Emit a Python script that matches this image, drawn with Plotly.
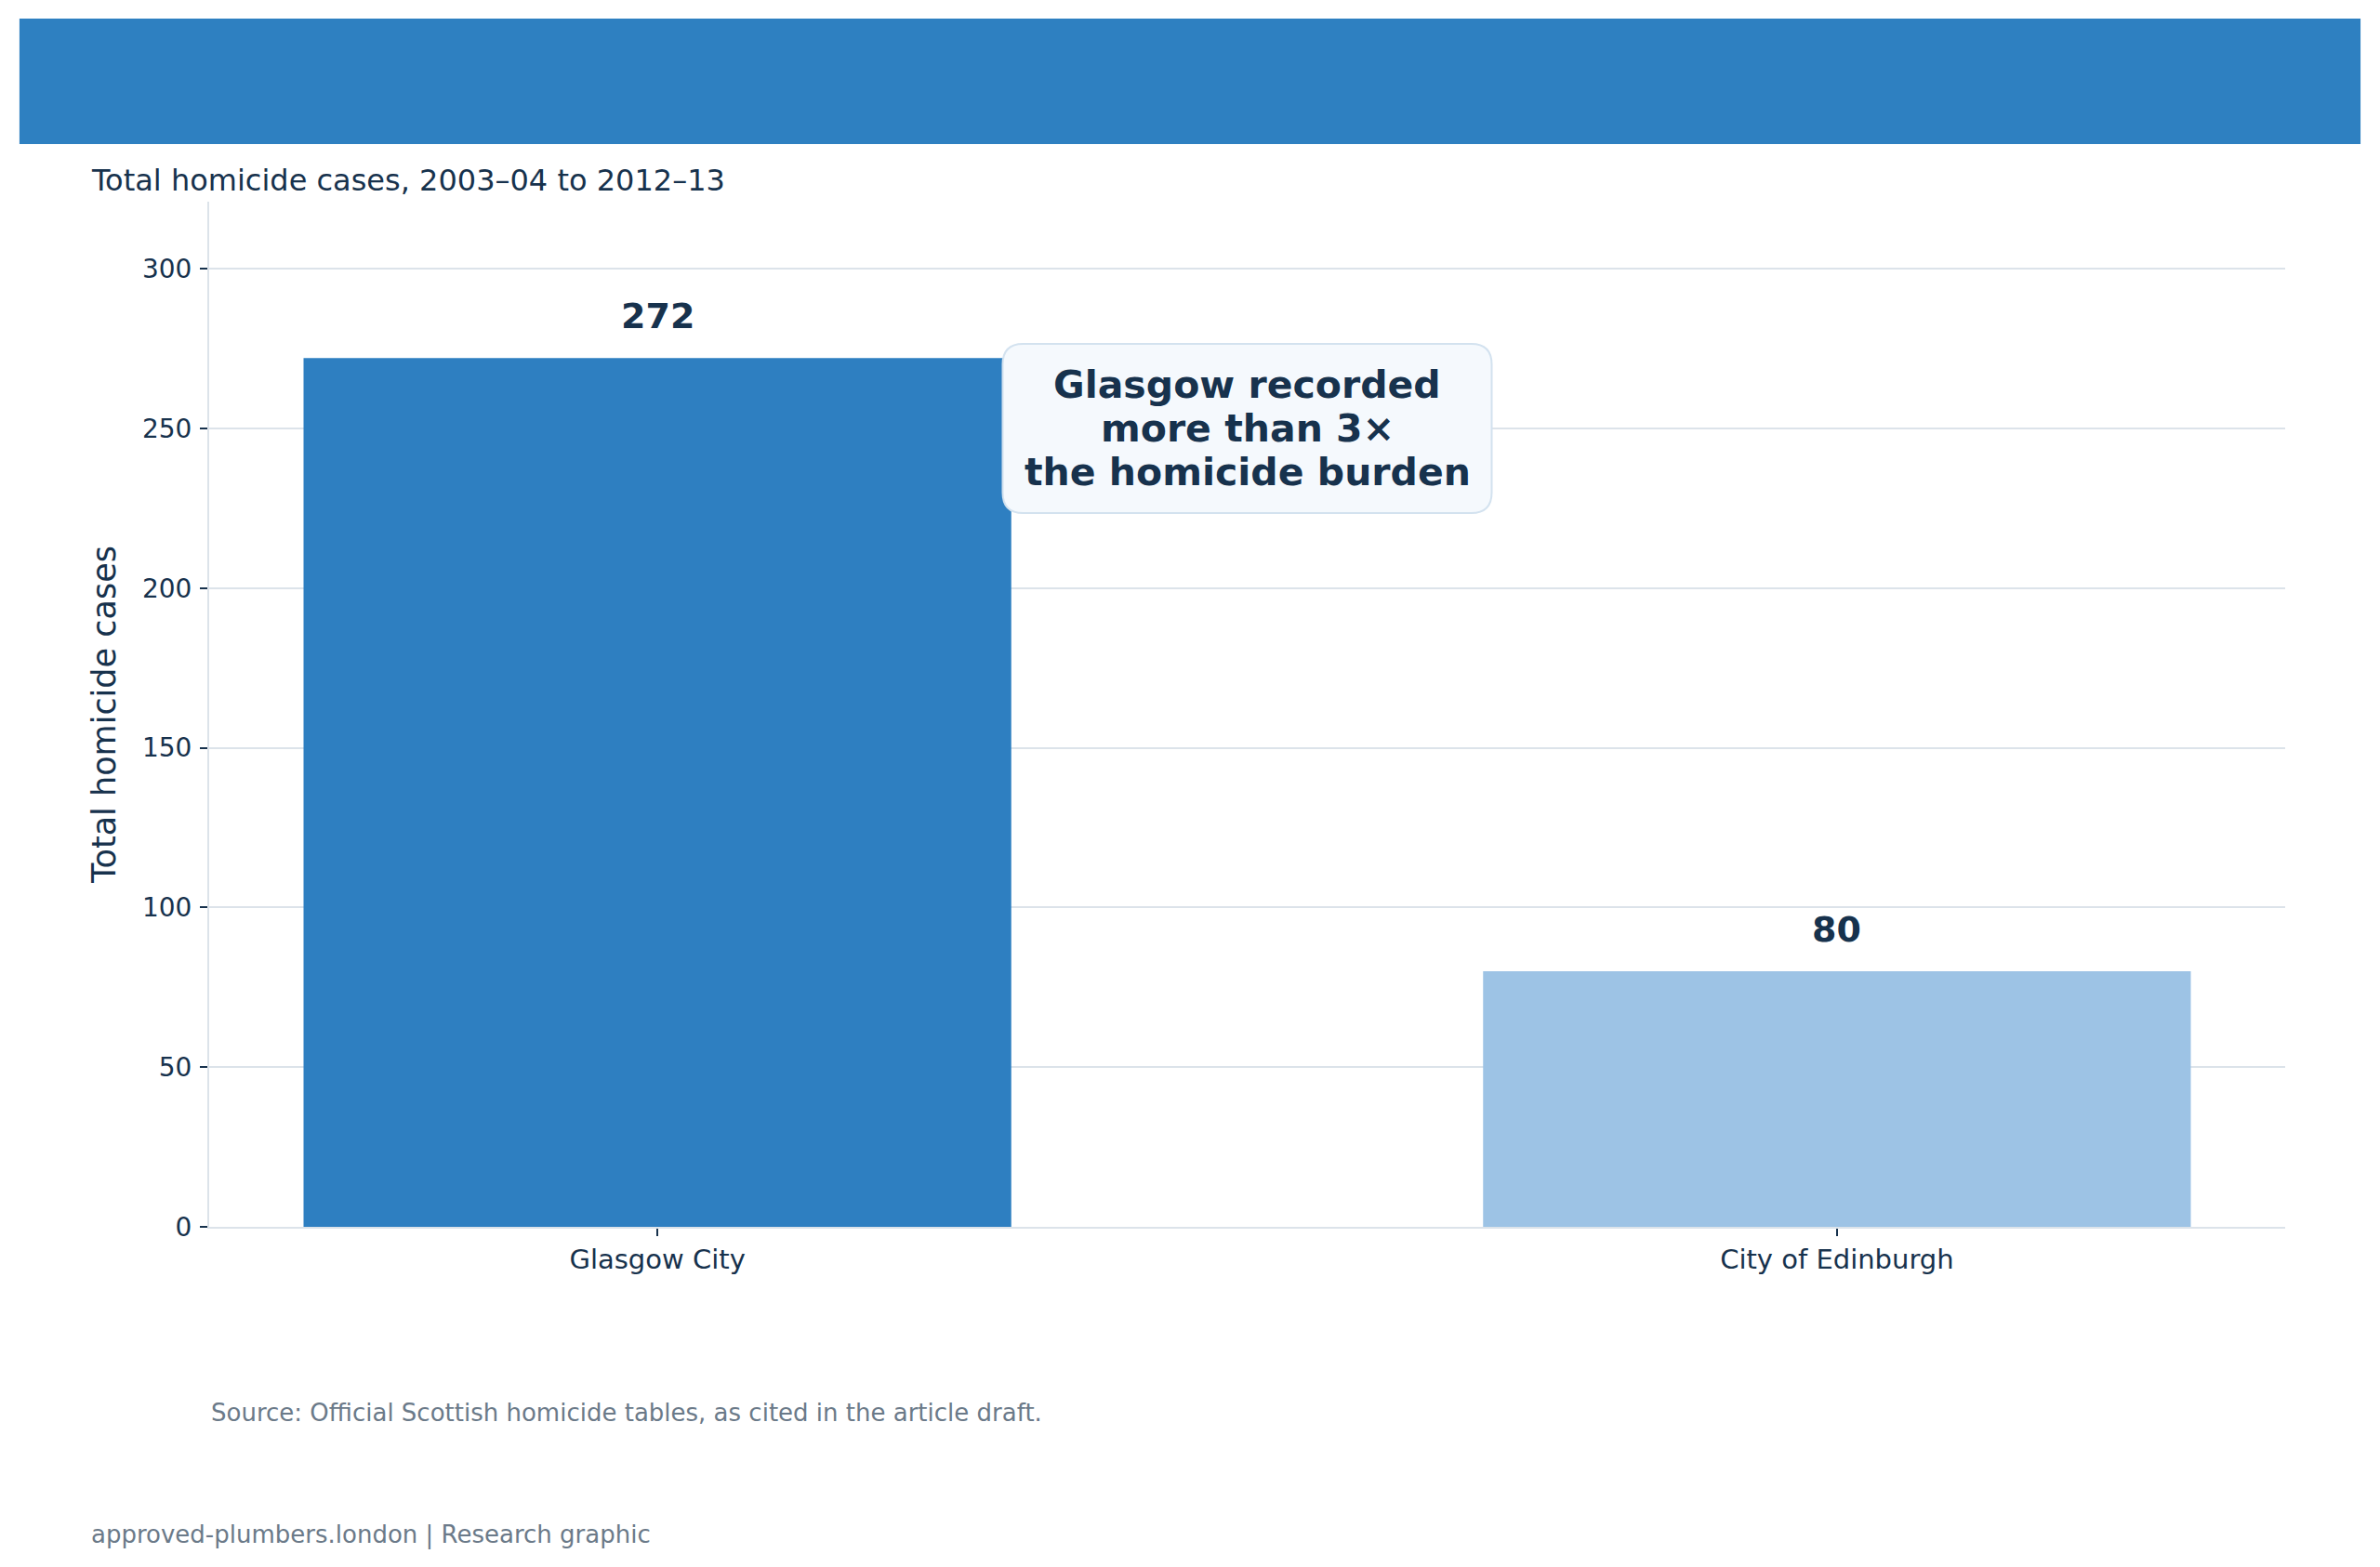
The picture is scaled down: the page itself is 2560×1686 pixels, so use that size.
import plotly.graph_objects as go

# data
areas = ["Glasgow City", "City of Edinburgh"]
cases = [272, 80]
bar_colors = ["#2E7FC1", "#9DC3E5"]
y_ticks = [0, 50, 100, 150, 200, 250, 300]
callout_lines = ["Glasgow recorded", "more than 3×", "the homicide burden"]

DARK = "#17324D"
GREY = "#6B7A89"
GRID = "#DCE3EA"
FONT = "DejaVu Sans"

# page body adds an 8px margin, so the figure is a bit smaller than the window
W, H = 2552, 1678
M_L, M_R, M_T, M_B = 217, 102, 209, 366
X_RANGE = [-0.38, 1.38]
Y_RANGE = [0, 321]

fig = go.Figure(go.Bar(
    x=list(range(len(areas))), y=cases, width=0.6,
    marker=dict(color=bar_colors, line=dict(width=0)),
    hoverinfo="skip",
))

# value labels above the bars
for i, v in enumerate(cases):
    fig.add_annotation(
        x=i, y=v, text=f"<b>{v}</b>", showarrow=False,
        yanchor="bottom", yshift=21,
        font=dict(family=FONT, size=38, color=DARK),
    )

# rounded callout box between the bars
plot_w = W - M_L - M_R
plot_h = H - M_T - M_B
px_x = plot_w / (X_RANGE[1] - X_RANGE[0])
px_y = plot_h / (Y_RANGE[1] - Y_RANGE[0])
cx, cy = 0.5, 250
hw, hh = 263 / px_x, 91 / px_y
rx, ry = 22 / px_x, 22 / px_y
x0, x1, y0, y1 = cx - hw, cx + hw, cy - hh, cy + hh
path = (
    f"M {x0 + rx},{y1} L {x1 - rx},{y1} Q {x1},{y1} {x1},{y1 - ry} "
    f"L {x1},{y0 + ry} Q {x1},{y0} {x1 - rx},{y0} "
    f"L {x0 + rx},{y0} Q {x0},{y0} {x0},{y0 + ry} "
    f"L {x0},{y1 - ry} Q {x0},{y1} {x0 + rx},{y1} Z"
)
fig.add_shape(type="path", path=path, xref="x", yref="y",
              fillcolor="#F5F9FD", line=dict(color="#D3E2EF", width=2),
              layer="above")
line_gap = 47
for k, line in enumerate(callout_lines):
    fig.add_annotation(
        x=cx, y=cy, xref="x", yref="y", showarrow=False,
        yshift=(1 - k) * line_gap,
        text=f"<b>{line}</b>",
        font=dict(family=FONT, size=41, color=DARK),
    )

# header banner
fig.add_shape(type="rect", xref="paper", yref="paper",
              x0=-0.0914, x1=1.0363, y0=1.0562, y1=1.1786,
              fillcolor="#2E80C1", line=dict(width=0), layer="above")

fig.add_annotation(
    xref="paper", yref="paper", x=-0.0578, y=1.0209,
    xanchor="left", yanchor="middle", showarrow=False,
    text="Total homicide cases, 2003–04 to 2012–13",
    font=dict(family=FONT, size=32, color=DARK),
)
fig.add_annotation(
    xref="paper", yref="paper", x=0, y=-0.1813,
    xanchor="left", yanchor="middle", showarrow=False,
    text="Source: Official Scottish homicide tables, as cited in the article draft.",
    font=dict(family=FONT, size=26, color=GREY),
)
fig.add_annotation(
    xref="paper", yref="paper", x=-0.0578, y=-0.3001,
    xanchor="left", yanchor="middle", showarrow=False,
    text="approved-plumbers.london | Research graphic",
    font=dict(family=FONT, size=26, color=GREY),
)

fig.update_layout(
    width=W, height=H,
    margin=dict(l=M_L, r=M_R, t=M_T, b=M_B),
    paper_bgcolor="white", plot_bgcolor="white",
    showlegend=False,
    font=dict(family=FONT, color=DARK),
    xaxis=dict(
        range=X_RANGE, tickvals=list(range(len(areas))), ticktext=areas,
        showgrid=False, zeroline=False,
        showline=True, linecolor=GRID, linewidth=2,
        ticks="outside", ticklen=8, tickwidth=1.5, tickcolor=DARK,
        tickfont=dict(family=FONT, size=29, color=DARK),
    ),
    yaxis=dict(
        range=Y_RANGE, tickvals=y_ticks,
        showgrid=True, gridcolor=GRID, gridwidth=2, zeroline=False,
        showline=True, linecolor=GRID, linewidth=2,
        ticks="outside", ticklen=8, tickwidth=1.5, tickcolor=DARK,
        ticklabelstandoff=3,
        tickfont=dict(family=FONT, size=28, color=DARK),
        title=dict(text="Total homicide cases", standoff=18,
                   font=dict(family=FONT, size=35, color=DARK)),
    ),
)

fig.write_html("out.html")
